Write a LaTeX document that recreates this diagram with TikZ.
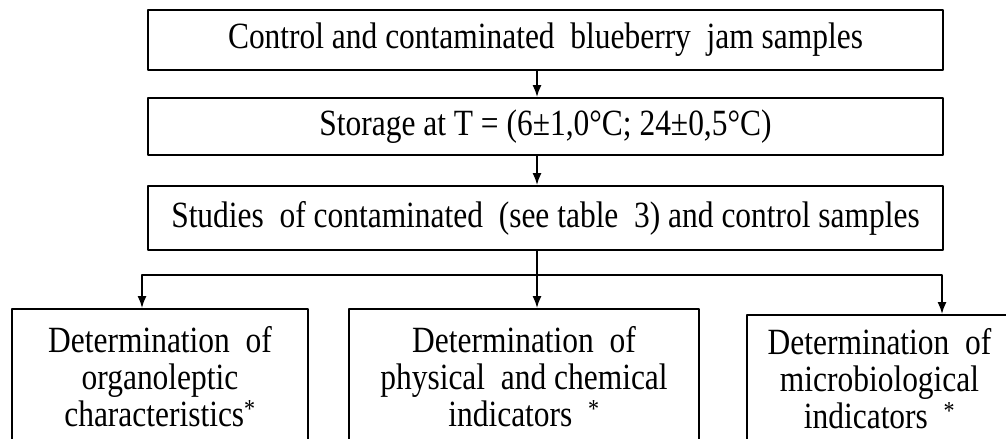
\documentclass[tikz,border=0pt]{standalone}
\usepackage{fontspec}
\setmainfont{Liberation Serif}[FakeStretch=0.85]
\usepackage{tikz}
\usetikzlibrary{arrows.meta}
\usetikzlibrary{shapes}

\tikzset{
  stagebox/.style={draw,line width=1.8bp,align=center,inner sep=0pt,
    font=\fontsize{37bp}{37bp}\selectfont},
}

\begin{document}
\begin{tikzpicture}[>={Latex[length=12bp,width=9bp]},line join=bevel,line width=1.8bp]
\useasboundingbox (0bp,0bp) rectangle (1006bp,439bp);
%%
\node (node_0) at (545.5bp,399bp) [stagebox,minimum width=795bp,minimum height=60bp] {Control and contaminated\ \ blueberry\ \ jam samples};
  \node (node_1) at (545.5bp,312.5bp) [stagebox,minimum width=795bp,minimum height=57bp] {Storage at T = (6±1,0°C; 24±0,5°C)};
  \node (node_2) at (545.5bp,221bp) [stagebox,minimum width=795bp,minimum height=64bp] {Studies\ \ of contaminated\ \ (see table\ \ 3) and control samples};
  \node (node_3) at (160bp,62bp) [stagebox,minimum width=296bp,minimum height=136bp] {Determination\ \ of\\ organoleptic\\ characteristics\textsuperscript{*}};
  \node (node_4) at (524bp,62bp) [stagebox,minimum width=350bp,minimum height=136bp] {Determination\ \ of\\ physical\ \ and chemical\\ indicators\ \ \textsuperscript{*}};
  \node (node_5) at (879.5bp,60bp) [stagebox,minimum width=265bp,minimum height=128bp] {Determination\ \ of\\ microbiological\\ indicators\ \ \textsuperscript{*}};
  \coordinate (split) at (537bp,164bp);
  \draw [black,->] (node_0.south -| split) -- (node_1.north -| split);
  \draw [black,->] (node_1.south -| split) -- (node_2.north -| split);
  \draw [black] (node_2.south -| split) -- (split);
  \draw [black,->] (split) -- (node_4.north -| split);
  \draw [black,->] (split) -| ([xshift=-18bp]node_3.north);
  \draw [black,->] (split) -| ([xshift=62.5bp]node_5.north);
%
\end{tikzpicture}
\end{document}
